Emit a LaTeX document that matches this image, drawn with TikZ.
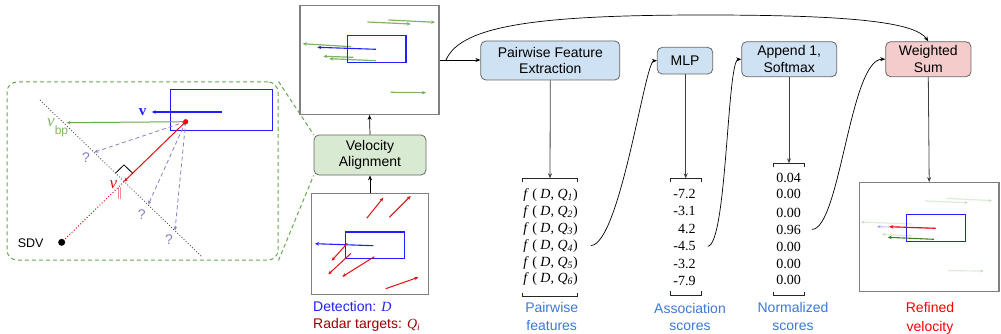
\documentclass[tikz,border=0pt]{standalone}
\usepackage{fontspec}
\setmainfont{Liberation Serif}
\setsansfont{Liberation Sans}
\usetikzlibrary{arrows.meta,calc,backgrounds}

\definecolor{boxline}{HTML}{666666}
\definecolor{procblue}{HTML}{CFE2F3}
\definecolor{procgreen}{HTML}{D9EAD3}
\definecolor{procred}{HTML}{F4CCCC}
\definecolor{framegray}{HTML}{808080}
\definecolor{detblue}{HTML}{1F1FFF}
\definecolor{vgreen}{HTML}{6AA84F}
\definecolor{darkgreen}{HTML}{38761D}
\definecolor{radarred}{HTML}{E01010}
\definecolor{labelblue}{HTML}{3C78D8}
\definecolor{labelred}{HTML}{990000}
\definecolor{qpurple}{HTML}{8E7CC3}

\tikzset{
  proc/.style={draw=boxline, line width=0.8pt, rounded corners=5pt, align=center,
    inner sep=0pt, font=\sffamily\fontsize{14}{16.5}\selectfont},
  frame/.style={draw=framegray, line width=1.2pt, inner sep=0pt, fill=white},
  flow/.style={line width=0.7pt, -{Stealth[length=5pt,width=4pt]}},
  feed/.style={draw=black!75, line width=0.8pt, -{Stealth[length=5pt,width=4pt]}},
  bracketline/.style={line width=0.9pt, draw=black!85},
  caption/.style={font=\sffamily\fontsize{14}{14}\selectfont, inner sep=0pt, anchor=base},
  num/.style={font=\fontsize{14}{14}\selectfont, inner sep=0pt, anchor=base},
  vec/.style={line width=1.1pt, -{Stealth[length=4pt,width=3.5pt]}},
  qarrow/.style={draw=qpurple, dash pattern=on 4pt off 3pt, line width=0.8pt,
    -{Stealth[length=4pt,width=3.5pt]}},
  qmark/.style={text=qpurple, font=\sffamily\fontsize{14}{14}\selectfont, inner sep=0pt},
  callout/.style={draw=vgreen, dash pattern=on 4pt off 3pt, line width=1pt},
}

\begin{document}
\begin{tikzpicture}[x=1pt,y=-1pt]
\useasboundingbox (0,0) rectangle (1001,334);

% ---------- processing blocks ----------
\node[proc, fill=procgreen, minimum width=112pt, minimum height=40pt] (va) at (370,155) {Velocity\\Alignment};
\node[proc, fill=procblue, minimum width=139pt, minimum height=39pt] (pfe) at (550.3,60.5) {Pairwise Feature\\Extraction};
\node[proc, fill=procblue, minimum width=55.4pt, minimum height=26.7pt] (mlp) at (685,60.7) {MLP};
\node[proc, fill=procblue, minimum width=95pt, minimum height=35pt] (app) at (789.2,59.2) {Append 1,\\Softmax};
\node[proc, fill=procred, minimum width=85.3pt, minimum height=35pt] (ws) at (928.3,59.2) {Weighted\\Sum};

% ---------- zoomed geometry panel ----------
\node[callout, rounded corners=10pt, minimum width=271pt, minimum height=178pt, inner sep=0pt] (zoombox) at (142.5,171) {};
\begin{scope}[on background layer]
  \draw[callout] (zoombox.north east) -- (va.north west);
  \draw[callout] (zoombox.south east) -- (va.south west);
\end{scope}

\coordinate (R) at (185.7,121.7);
\coordinate (F) at (124,181.6);
\coordinate (L1) at (40,100);
\coordinate (L2) at (201.7,256.7);
\node[circle, fill=black, inner sep=0pt, minimum size=7pt] (sdv) at (61.7,242.3) {};
\node[font=\sffamily\fontsize{12.5}{12.5}\selectfont, inner sep=0pt] (sdvlabel) at (30.7,242.7) {SDV};

\draw[draw=detblue, line width=1.1pt] (170.7,89.3) rectangle (272.3,130.7);
\draw[vec, detblue] (222.3,112) -- (151.7,112);
\node[text=detblue, font=\bfseries\fontsize{15}{15}\selectfont, inner sep=0pt] (vlabel) at (142.5,111.7) {v};

\draw[black!70, dotted, line width=0.9pt] (L1) -- (L2);
\draw[radarred, dotted, line width=1pt] (F) -- (sdv);

\coordinate (q1) at (94.3,152.2);
\coordinate (q2) at (148.3,204.5);
\coordinate (q3) at (175,230.5);
\draw[qarrow] (R) -- (q1);
\draw[qarrow] (R) -- (q2);
\draw[qarrow] (R) -- (q3);
\node[qmark] (qm1) at (86,157.3) {?};
\node[qmark] (qm2) at (141.7,215) {?};
\node[qmark] (qm3) at (169,240) {?};

\coordinate (vbp) at (66.7,122.7);
\draw[vgreen, line width=1pt, -{Stealth[length=4pt,width=3.5pt]}] (R) -- (vbp);
\node[text=vgreen!85!white, font=\itshape\fontsize{17}{17}\selectfont, inner sep=0pt] (vbplabel) at (51,122.5) {v};
\node[text=vgreen!85!white, font=\sffamily\fontsize{12}{12}\selectfont, inner sep=0pt] (bplabel) at (61.5,131.5) {bp};

\draw[radarred, line width=1pt, -{Stealth[length=4pt,width=3.5pt]}] (R) -- (F);
\coordinate (ra1) at ($(F)!12pt!(R)$);
\coordinate (ra2) at ($(F)!12pt!(L1)$);
\draw[black, line width=0.8pt] (ra2) -- ($(ra1)+(ra2)-(F)$) -- (ra1);
\node[text=radarred, font=\itshape\fontsize{17}{17}\selectfont, inner sep=0pt] (vparlabel) at (113.3,185) {v};
\node[text=radarred, font=\fontsize{13}{13}\selectfont, inner sep=0pt] (parlabel) at (119.6,193) {$\|$};

\fill[radarred] (R) circle (2.6pt);

% ---------- aligned velocities (top frame) ----------
\node[frame, minimum width=139pt, minimum height=108.6pt] (img1) at (369.5,60) {};
\begin{scope}[vec, vgreen, opacity=0.85, line width=1.2pt]
  \draw (367.3,22) -- (410.7,24);
  \draw (388.3,20) -- (435,22.3);
  \draw (351,46.7) -- (302.7,43.7);
  \draw (353.3,57.3) -- (323.3,56.3);
  \draw (376,60.7) -- (329.3,58.7);
  \draw (390.7,92.3) -- (426,92.7);
\end{scope}
\draw[draw=detblue, line width=1.1pt] (347.3,35.7) rectangle (406,62.3);
\draw[vec, detblue] (376,49.3) -- (317.3,47.3);

% ---------- raw radar targets (bottom frame) ----------
\node[frame, minimum width=116.6pt, minimum height=101pt] (img0) at (370,243.8) {};
\draw[draw=detblue, line width=1.1pt] (345.3,232) rectangle (404.3,258.3);
\draw[vec, detblue] (373.3,245.7) -- (315,243.7);
\begin{scope}[vec, radarred, line width=1pt]
  \draw (366.7,218.3) -- (383.3,197.7);
  \draw (389.3,217.3) -- (410.7,196);
  \draw (347.3,243.3) -- (331.7,260.7);
  \draw (351,253.3) -- (328.3,274.3);
  \draw (374.3,256.7) -- (342.3,276.7);
  \draw (385.7,288.7) -- (418.3,277.3);
\end{scope}
\node[caption, anchor=base west, text=detblue] (detlabel) at (313,311.5) {Detection: \textrm{\textit{D}}};
\node[caption, anchor=base west, text=labelred] (radlabel) at (313,328) {Radar targets: \textrm{\textit{Q}\textsubscript{\textit{i}}}};

% ---------- refined velocity (right frame) ----------
\node[frame, minimum width=139.7pt, minimum height=109pt] (img2) at (929.2,237.2) {};
\begin{scope}[vec, vgreen, opacity=0.22, line width=1.2pt]
  \draw (925,201) -- (968.3,202.7);
  \draw (946,198.3) -- (992.3,200.7);
  \draw (911.7,224) -- (860.7,222);
  \draw (911.7,236) -- (881.7,234.3);
  \draw (948.3,270.7) -- (984,271);
\end{scope}
\draw[draw=detblue, line width=1.1pt] (906.7,214.3) rectangle (965.7,241.3);
\draw[vec, detblue, opacity=0.25] (935.7,228.4) -- (876.7,226.6);
\draw[vec, darkgreen!80!vgreen] (934,239.3) -- (887.7,237.3);
\draw[vec, red] (935.7,228.3) -- (889.3,226.7);
\node[caption, text=red] (ref1) at (930,312.5) {Refined};
\node[caption, text=red] (ref2) at (930,331) {velocity};

% ---------- pairwise features column ----------
\draw[bracketline] (522.7,182) -- (522.7,178.3) -- (577.3,178.3) -- (577.3,182);
\draw[bracketline] (522.7,293) -- (522.7,296.7) -- (577.3,296.7) -- (577.3,293);
\coordinate (pftop) at (550,178.3);
\foreach \i/\y in {1/198,2/215,3/232,4/249,5/266,6/282.5}
  \node[num] (f\i) at (550.5,\y) {\textit{f} ( \textit{D}, \textit{Q}\textsubscript{\textit{\i}})};
\node[caption, text=labelblue] (pfc1) at (551.7,312.5) {Pairwise};
\node[caption, text=labelblue] (pfc2) at (551.7,330.5) {features};

% ---------- association scores column ----------
\draw[bracketline] (670.7,182) -- (670.7,178.3) -- (701.7,178.3) -- (701.7,182);
\draw[bracketline] (670.7,291.3) -- (670.7,295) -- (701.7,295) -- (701.7,291.3);
\coordinate (astop) at (685.7,178.3);
\foreach \i/\y/\v in {1/198/-7.2,2/215.5/-3.1,3/233/4.2,4/250.8/-4.5,5/268.5/-3.2,6/285/-7.9}
  \node[num, anchor=base east] (a\i) at (695.7,\y) {\v};
\node[caption, text=labelblue] (asc1) at (690,313) {Association};
\node[caption, text=labelblue] (asc2) at (690,330) {scores};

% ---------- normalized scores column ----------
\draw[bracketline] (773.3,167) -- (773.3,163.3) -- (804.3,163.3) -- (804.3,167);
\draw[bracketline] (773.3,292) -- (773.3,295.7) -- (804.3,295.7) -- (804.3,292);
\coordinate (nstop) at (789,163.3);
\foreach \i/\y/\v in {1/182/0.04,2/198/0.00,3/217/0.00,4/234/0.96,5/251.5/0.00,6/268/0.00,7/284.8/0.00}
  \node[num] (n\i) at (788.5,\y) {\v};
\node[caption, text=labelblue] (nsc1) at (793,312) {Normalized};
\node[caption, text=labelblue] (nsc2) at (793,330) {scores};

% ---------- connectors ----------
\draw[flow] (img0.north) -- (va.south);
\draw[flow] (va.north) -- (img1.south);
\draw[flow] (img1.east) -- (img1.east -| pfe.west);
\coordinate (split) at (446,60);
\draw[flow] (split) .. controls (461,25) and (540,15) .. (705,15)
  .. controls (850,15) and (915,22) .. (ws.north);

\draw[feed] (pfe.south) -- (pftop);
\draw[feed] (mlp.south -| astop) -- (astop);
\draw[feed] (app.south -| nstop) -- (nstop);
\draw[feed] (ws.south) -- (img2.north);

\draw[flow] ($(f4.east)+(13,0)$) .. controls (620,244) and (645,61) .. (mlp.west);
\draw[flow] ($(a4.east)+(12,0)$) .. controls (727,245) and (727,60) .. (app.west);
\draw[flow] ($(n4.east)+(11,0)$) .. controls (840,229) and (850,59) .. (ws.west);
\end{tikzpicture}
\end{document}
